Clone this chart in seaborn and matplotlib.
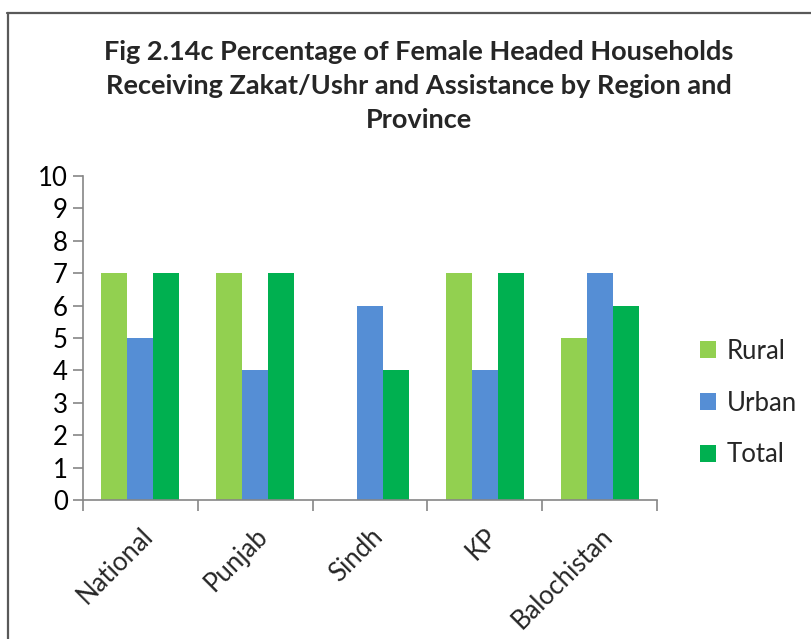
import matplotlib
matplotlib.use("Agg")
import matplotlib.pyplot as plt
from matplotlib.lines import Line2D
import seaborn as sns
import pandas as pd

regions = ["National", "Punjab", "Sindh", "KP", "Balochistan"]
series = ["Rural", "Urban", "Total"]
rural = [7, 7, 0, 7, 5]
urban = [5, 4, 6, 4, 7]
total = [7, 7, 4, 7, 6]
y_ticks = list(range(0, 11))
title = "Fig 2.14c Percentage of Female Headed Households\nReceiving Zakat/Ushr and Assistance by Region and\nProvince"
colors = ["#92D050", "#558ED5", "#00B050"]

df = pd.DataFrame({
    "Region": regions * 3,
    "Series": [s for s in series for _ in regions],
    "Value": rural + urban + total,
})

sns.set_style("white")
plt.rcParams["font.family"] = ["Lato", "DejaVu Sans"]

W, H = 812, 639
fig = plt.figure(figsize=(W / 100, H / 100), dpi=100)
ax = fig.add_axes([83 / W, 1 - 500 / H, (657 - 83) / W, (500 - 176) / H])

sns.barplot(data=df, x="Region", y="Value", hue="Series", order=regions,
            hue_order=series, palette=colors, width=0.68, saturation=1,
            edgecolor="none", linewidth=0, ax=ax, legend=True)

ax.set_xlim(-0.5, len(regions) - 0.5)
ax.set_ylim(0, 10)
ax.set_yticks(y_ticks)
ax.set_yticklabels([str(t) for t in y_ticks], fontsize=18.5, color="#000000")
ax.set_xlabel("")
ax.set_ylabel("")

ax.set_xticks([i - 0.5 for i in range(len(regions) + 1)])
ax.set_xticklabels([])
ax.set_xticks(range(len(regions)), minor=True)
ax.set_xticklabels(regions, minor=True, rotation=45, ha="right",
                   rotation_mode="anchor", fontsize=18.5)
ax.tick_params(axis="x", which="minor", length=0, pad=17)
ax.tick_params(axis="x", which="major", length=8, width=1.2, color="#868686", direction="out", bottom=True)
ax.tick_params(axis="y", length=7, width=1.2, color="#868686", direction="out", left=True, pad=4)

for s in ["top", "right"]:
    ax.spines[s].set_visible(False)
for s in ["left", "bottom"]:
    ax.spines[s].set_color("#868686")
    ax.spines[s].set_linewidth(1.2)

leg = ax.legend(loc="center left", bbox_to_anchor=(677 / W, 1 - 403 / H),
                bbox_transform=fig.transFigure, frameon=False, fontsize=18.5,
                handlelength=0.6, handleheight=0.6, handletextpad=0.45,
                labelspacing=1.05)

fig.text(419 / W, 1 - 86 / H, title, ha="center", va="center",
         fontsize=19.5, fontweight="bold", linespacing=1.5)

fig.add_artist(Line2D([7 / W, 1], [1 - 13 / H, 1 - 13 / H], color="#595959", lw=1.6,
                      transform=fig.transFigure))
fig.add_artist(Line2D([8 / W, 8 / W], [0, 1 - 13 / H], color="#595959", lw=1.6,
                      transform=fig.transFigure))

fig.savefig("out.png", dpi=100)
